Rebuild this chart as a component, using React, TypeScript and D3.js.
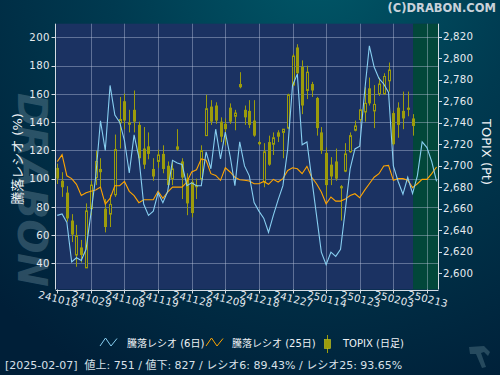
import React from 'react';
import * as d3 from 'd3';

const tickLabels = ['241018', '241029', '241108', '241119', '241128', '241209', '241218', '241227', '250114', '250123', '250203', '250213'];
const tickIndex = [0, 7, 14, 21, 28, 35, 42, 49, 56, 63, 70, 77];
const leftTicks = [40, 60, 80, 100, 120, 140, 160, 180, 200];
const rightTicks = [2600, 2620, 2640, 2660, 2680, 2700, 2720, 2740, 2760, 2780, 2800, 2820];

const ratio6 = [74, 75, 69, 41, 44, 42, 50, 75, 101, 141, 120, 166, 145, 140, 127, 104, 131, 115, 82, 74,
  77, 90, 83, 91, 113, 111, 110, 95, 97, 95, 95, 119, 107, 135, 114, 133, 116, 95, 126, 109,
  102, 83, 77, 72, 62, 74, 85, 95, 121, 166, 174, 124, 126, 100, 74, 48, 39, 48, 45, 50,
  78, 107, 121, 123, 161, 194, 179, 171, 167, 161, 109, 98, 89, 101, 89.43, 102, 126, 122, 112, 98];

const ratio25 = [112, 117, 102, 100, 96, 88, 90, 91, 92, 94, 82, 86, 95, 95, 98, 91, 88, 83, 85, 85,
  85, 91, 86, 90.5, 94, 94, 94, 97.6, 104.7, 106.3, 114, 113, 103.5, 102.3, 98.8, 107.7, 104.7, 101, 99.2, 98.8,
  98.3, 96.4, 96.4, 98, 96, 99.5, 97.6, 100, 105.8, 107.7, 107, 103.5, 108.7, 101, 96.4, 90.5, 82.2, 87, 84.1, 84.1,
  85.5, 88, 89.3, 86.5, 91.7, 96.4, 101, 103.5, 108.9, 109.4, 98.8, 100, 100, 98.8, 93.65, 96.4, 99.5, 99.5, 103.5, 108.2];

const openP = [2698, 2686, 2675, 2649, 2617, 2624, 2605, 2660, 2689, 2697, 2660, 2655, 2673, 2740, 2760, 2739, 2752, 2738, 2716, 2718,
  2697, 2704, 2711, 2700, 2688, 2718, 2704, 2688, 2685, 2682, 2688, 2728, 2755, 2756, 2741, 2739, 2754, 2746, 2776, 2752,
  2751, 2742, 2722, 2685, 2722, 2720, 2731, 2731, 2735, 2775, 2810, 2792, 2770, 2776, 2763, 2731, 2712, 2701, 2704, 2681,
  2695, 2713, 2733, 2743, 2750, 2772, 2751, 2767, 2767, 2779, 2749, 2754, 2751, 2754, 2744];
const highP = [2702, 2694, 2681, 2655, 2645, 2631, 2665, 2686, 2714, 2707, 2669, 2673, 2729, 2764, 2767, 2752, 2770, 2741, 2736, 2731,
  2707, 2715, 2719, 2704, 2704, 2734, 2707, 2693, 2688, 2688, 2719, 2766, 2761, 2759, 2745, 2744, 2758, 2752, 2787, 2756,
  2761, 2761, 2723, 2721, 2728, 2731, 2733, 2734, 2767, 2804, 2813, 2798, 2793, 2778, 2764, 2736, 2717, 2708, 2716, 2682,
  2721, 2731, 2742, 2752, 2773, 2782, 2775, 2782, 2786, 2796, 2751, 2759, 2769, 2769, 2748];
const lowP = [2683, 2671, 2648, 2629, 2606, 2610, 2605, 2654, 2682, 2679, 2638, 2643, 2671, 2716, 2734, 2731, 2731, 2702, 2697, 2706,
  2686, 2698, 2693, 2680, 2682, 2714, 2669, 2654, 2652, 2669, 2686, 2728, 2738, 2739, 2722, 2719, 2739, 2733, 2772, 2738,
  2735, 2727, 2719, 2680, 2700, 2710, 2722, 2707, 2734, 2774, 2784, 2748, 2762, 2764, 2728, 2711, 2671, 2682, 2686, 2649,
  2694, 2712, 2732, 2741, 2741, 2756, 2735, 2765, 2766, 2769, 2719, 2726, 2734, 2746, 2728];
const closeP = [2688, 2680, 2651, 2636, 2635, 2617, 2658, 2682, 2704, 2694, 2643, 2664, 2715, 2743, 2742, 2740, 2741, 2707, 2701, 2711,
  2690, 2710, 2697, 2682, 2697, 2715, 2689, 2665, 2656, 2680, 2714, 2753, 2741, 2742, 2727, 2734, 2741, 2749, 2773, 2745,
  2738, 2728, 2720, 2713, 2701, 2726, 2727, 2734, 2766, 2802, 2786, 2756, 2787, 2770, 2735, 2714, 2682, 2690, 2688, 2679,
  2711, 2728, 2737, 2752, 2758, 2758, 2757, 2776, 2783, 2789, 2720, 2738, 2744, 2752, 2737];

const legendLabels = ['騰落レシオ (6日)', '騰落レシオ (25日)', 'TOPIX (日足)'];
const statusText = '[2025-02-07]  値上: 751 / 値下: 827 / レシオ6: 89.43% / レシオ25: 93.65%';

const FONT = "'DejaVu Sans', 'Noto Sans CJK JP', sans-serif";
const CYAN = '#87cef0';
const ORANGE = '#ffa500';
const OLIVE = '#9c9c0c';

export default function App() {
  const W = 500, H = 375;
  const L = 56.3, R = 438, T = 23.7, B = 289.5;
  const x = d3.scaleLinear().domain([-0.2, 79.3]).range([L, R]);
  const yL = d3.scaleLinear().domain([21.5, 209.7]).range([B, T]);
  const yR = d3.scaleLinear().domain([2584.9, 2832.1]).range([B, T]);

  const line6 = d3.line<number>().x((_, i) => x(i)).y((d) => yL(d))(ratio6) || '';
  const line25 = d3.line<number>().x((_, i) => x(i)).y((d) => yL(d))(ratio25) || '';

  const lastIdx = openP.length - 1;
  const greenX = x(lastIdx) + 0.5;

  const px = (v: number) => Math.round(v) + 0.5;

  return (
    <svg width={W} height={H} style={{ position: 'absolute', left: 0, top: 0 }} fontFamily={FONT}>
      <defs>
        <radialGradient id="bg" gradientUnits="userSpaceOnUse" cx={320} cy={-40} r={470}>
          <stop offset="0%" stopColor="#005868" />
          <stop offset="45%" stopColor="#003a50" />
          <stop offset="100%" stopColor="#001f38" />
        </radialGradient>
        <clipPath id="plotClip">
          <rect x={L} y={T} width={R - L} height={B - T} />
        </clipPath>
      </defs>
      <rect x={0} y={0} width={W} height={H} fill="url(#bg)" />

      {/* watermark */}
      <text transform="translate(18,190) rotate(90)" textAnchor="middle" fontSize={40} fontWeight="bold"
        fontStyle="italic" fill="#6a8a9a" opacity={0.4} textLength={194} lengthAdjust="spacingAndGlyphs">DRABON</text>

      {/* copyright */}
      <text x={496} y={12} textAnchor="end" fontSize={11.5} fontWeight="bold" fill="#c9d2da">(C)DRABON.COM</text>

      {/* plot area */}
      <rect x={L} y={T} width={R - L} height={B - T} fill="#1b3262" />
      <rect x={greenX} y={T} width={R - greenX} height={B - T} fill="#02473a" />

      {/* gridlines */}
      <g stroke="rgba(190,200,225,0.42)" strokeWidth={1}>
        {leftTicks.map((v) => (
          <line key={'h' + v} x1={L} x2={R} y1={px(yL(v))} y2={px(yL(v))} />
        ))}
        {tickIndex.slice(1).map((i) => (
          <line key={'v' + i} x1={px(x(i))} x2={px(x(i))} y1={T} y2={B} />
        ))}
      </g>

      <g clipPath="url(#plotClip)">
        {/* candles */}
        {openP.map((o, i) => {
          const c = closeP[i];
          const cx = Math.round(x(i));
          const up = c >= o;
          const yTop = yR(Math.max(o, c));
          const yBot = yR(Math.min(o, c));
          const hgt = Math.max(1.5, yBot - yTop);
          return (
            <g key={'c' + i}>
              <line x1={cx + 0.5} x2={cx + 0.5} y1={yR(highP[i])} y2={yR(lowP[i])} stroke={OLIVE} strokeWidth={1} />
              {up ? (
                <rect x={cx - 0.5} y={yTop} width={2} height={hgt} fill="#1b3262" stroke={OLIVE} strokeWidth={1} />
              ) : (
                <rect x={cx - 1} y={yTop} width={3} height={hgt} fill={OLIVE} />
              )}
            </g>
          );
        })}
        <path d={line25} fill="none" stroke={ORANGE} strokeWidth={1.1} />
        <path d={line6} fill="none" stroke={CYAN} strokeWidth={1.1} />
      </g>

      {/* axes */}
      <g stroke="#d5dbe3" strokeWidth={1}>
        <line x1={px(L) - 1} x2={px(L) - 1} y1={T} y2={B} />
        <line x1={px(R)} x2={px(R)} y1={T} y2={B} />
        <line x1={L - 0.5} x2={R + 0.5} y1={px(B)} y2={px(B)} />
        {leftTicks.map((v) => (
          <line key={'lt' + v} x1={51.5} x2={56} y1={px(yL(v))} y2={px(yL(v))} />
        ))}
        {rightTicks.map((v) => (
          <line key={'rt' + v} x1={438} x2={442} y1={px(yR(v))} y2={px(yR(v))} />
        ))}
        {tickIndex.map((i) => (
          <line key={'xt' + i} x1={px(x(i))} x2={px(x(i))} y1={B} y2={B + 4} />
        ))}
      </g>

      <g fill="#e6ebf0" fontSize={10.2}>
        {leftTicks.map((v) => (
          <text key={'ll' + v} x={50} y={yL(v)} dy="0.36em" textAnchor="end" letterSpacing={0.4}>{v}</text>
        ))}
        {rightTicks.map((v) => (
          <text key={'rl' + v} x={443} y={yR(v)} dy="0.36em" textAnchor="start" letterSpacing={0.2}>{d3.format(',')(v)}</text>
        ))}
        {tickIndex.map((i, k) => (
          <text key={'xl' + i} transform={`translate(${x(i) + 1},${299}) rotate(14)`} dy="0.36em" textAnchor="middle" letterSpacing={0.3}>
            {tickLabels[k]}
          </text>
        ))}
      </g>

      {/* axis titles */}
      <text transform="translate(17,159) rotate(-90)" textAnchor="middle" dy="0.36em" fontSize={13} fill="#eef2f5">騰落レシオ (%)</text>
      <text transform="translate(487,152) rotate(90)" textAnchor="middle" dy="0.36em" fontSize={13} fill="#eef2f5">TOPIX (Pt)</text>

      {/* legend */}
      <g fontSize={10} fill="#eef2f5">
        <polyline points="100,346 105.5,338 111,346 117,338.5" fill="none" stroke={CYAN} strokeWidth={1} />
        <text x={127} y={347}>{legendLabels[0]}</text>
        <polyline points="206,346 211.5,338 217,346 223,338.5" fill="none" stroke={ORANGE} strokeWidth={1} />
        <text x={232} y={347}>{legendLabels[1]}</text>
        <line x1={327.5} x2={327.5} y1={335} y2={353} stroke={OLIVE} strokeWidth={1} />
        <rect x={324.5} y={339.5} width={6} height={9} fill={OLIVE} stroke="#c8c820" strokeWidth={0.6} />
        <text x={343} y={347}>{legendLabels[2]}</text>
      </g>

      {/* status */}
      <text x={5} y={369} fontSize={11} fill="#d8e0e8" style={{ whiteSpace: 'pre' }}>{statusText}</text>

      {/* small logo */}
      <path d="M469,347 L484,346 L490,352 L488,356 L484,352 L481,353 L486,367 L482,368 L476,354 L470,354 Z" fill="#2f5466" opacity={0.8} />
    </svg>
  );
}
